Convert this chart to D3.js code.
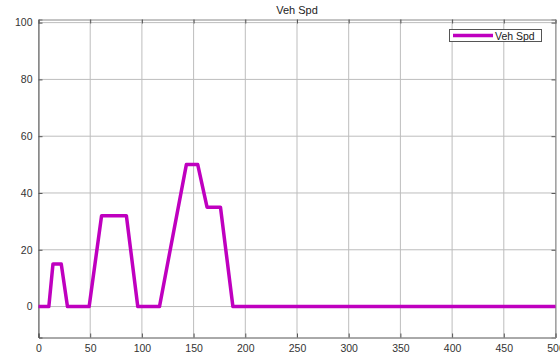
<!DOCTYPE html>
<html><head><meta charset="utf-8">
<script src="https://cdn.jsdelivr.net/npm/d3@7"></script>
<style>body{margin:0;background:#fff}svg{display:block}text{font-family:"Liberation Sans",Arial,sans-serif}</style>
</head><body><svg id="c" width="560" height="358"></svg>
<script>
const title = "Veh Spd";
const seriesName = "Veh Spd";
const timeValues  = [0, 10, 14, 22, 28, 49, 61, 85, 96, 117, 143, 154, 163, 176, 188, 500];
const speedValues = [0,  0, 15, 15,  0,  0, 32, 32,  0,   0,  50,  50,  35,  35,   0,   0];
const xTicks = [0, 50, 100, 150, 200, 250, 300, 350, 400, 450, 500];
const yTicks = [0, 20, 40, 60, 80, 100];

const svg = d3.select("#c");
const L = 38.5, R = 555.5, T = 19.5, B = 337.5;
const x = d3.scaleLinear().domain([0, 500]).range([L, R]);
const y = d3.scaleLinear().domain([-10.9, 101.1]).range([B, T]);
const data = timeValues.map((t, i) => ({t, v: speedValues[i]}));

// grid
svg.append("g").selectAll("line").data(xTicks).join("line")
  .attr("x1", d => x(d)).attr("x2", d => x(d)).attr("y1", T).attr("y2", B)
  .attr("stroke", "#bdbdbd").attr("stroke-width", 1);
svg.append("g").selectAll("line").data(yTicks).join("line")
  .attr("y1", d => y(d)).attr("y2", d => y(d)).attr("x1", L).attr("x2", R)
  .attr("stroke", "#bdbdbd").attr("stroke-width", 1);

// axes
const xa = svg.append("g").attr("transform", `translate(0,${B})`)
  .call(d3.axisBottom(x).tickValues(xTicks).tickSize(-4).tickPadding(7).tickFormat(d3.format("d")));
const ya = svg.append("g").attr("transform", `translate(${L},0)`)
  .call(d3.axisLeft(y).tickValues(yTicks).tickSize(-4).tickPadding(6).tickFormat(d3.format("d")));
const xt = svg.append("g").attr("transform", `translate(0,${T})`)
  .call(d3.axisTop(x).tickValues(xTicks).tickSize(-4).tickFormat(""));
const yr = svg.append("g").attr("transform", `translate(${R},0)`)
  .call(d3.axisRight(y).tickValues(yTicks).tickSize(-4).tickFormat(""));
[xa, ya, xt, yr].forEach(g => {
  g.selectAll("path").attr("stroke", "#555").attr("stroke-width", 1);
  g.selectAll("line").attr("stroke", "#555");
  g.selectAll("text").attr("fill", "#333").style("font-size", "10.5px");
});
xt.select(".domain").attr("stroke", "#888");
yr.select(".domain").attr("stroke", "#888");

// line
svg.append("path").datum(data)
  .attr("fill", "none").attr("stroke", "#bf00bf").attr("stroke-width", 3.5)
  .attr("stroke-linejoin", "round")
  .attr("d", d3.line().x(d => x(d.t)).y(d => y(d.v)));

// title
svg.append("text").attr("x", (L + R) / 2).attr("y", 14).attr("text-anchor", "middle")
  .style("font-size", "11px").attr("fill", "#222").text(title);

// legend
const lg = svg.append("g");
lg.append("rect").attr("x", 449.5).attr("y", 29.5).attr("width", 92).attr("height", 12)
  .attr("fill", "#fff").attr("stroke", "#555").attr("stroke-width", 1);
lg.append("line").attr("x1", 453).attr("x2", 493).attr("y1", 35.5).attr("y2", 35.5)
  .attr("stroke", "#bf00bf").attr("stroke-width", 3.5);
lg.append("text").attr("x", 495).attr("y", 39.5).style("font-size", "10.5px")
  .attr("fill", "#222").text(seriesName);
</script></body></html>
